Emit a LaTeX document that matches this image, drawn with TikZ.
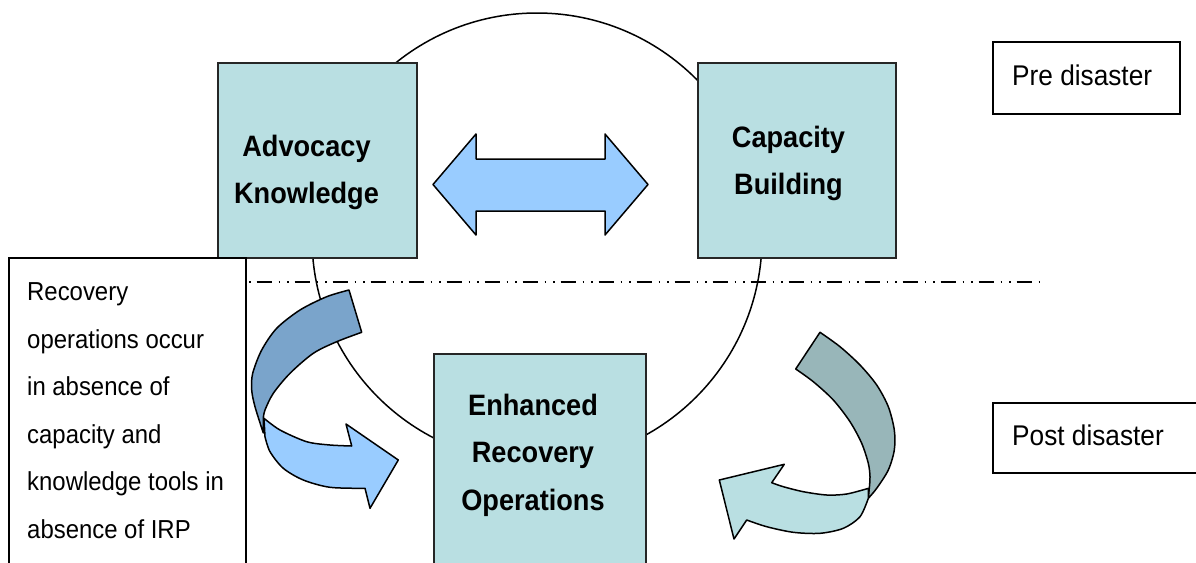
\documentclass[tikz,border=0pt]{standalone}
\usepackage{fontspec}
\setmainfont{Liberation Sans}
\newfontfamily\lab[FakeStretch=0.92]{Liberation Sans}
\definecolor{boxfill}{HTML}{B9DFE2}
\definecolor{arrblue}{HTML}{99CCFF}
\definecolor{arrdark}{HTML}{7AA4CB}
\definecolor{arrgrey}{HTML}{98B6B9}
\tikzset{
  box/.style={draw=black!85, line width=1.8pt, fill=boxfill, inner sep=0pt, anchor=north west},
  plainbox/.style={draw=black, line width=1.6pt, fill=white, inner sep=0pt, anchor=north west},
  boldlbl/.style={font=\lab\fontsize{29.5}{30}\selectfont\bfseries, anchor=base, inner sep=0pt},
  txtlbl/.style={font=\lab\fontsize{26}{26}\selectfont, anchor=base west, inner sep=0pt},
  taglbl/.style={font=\lab\fontsize{28.5}{29}\selectfont, anchor=base west, inner sep=0pt},
  outl/.style={draw=black, line width=1.5pt, line join=round},
  sepline/.style={draw=black, line width=1.6pt, dash pattern=on 15pt off 7pt on 1.5pt off 7pt on 1.5pt off 6pt},
}
\begin{document}
\begin{tikzpicture}[x=1pt,y=-1pt]
\useasboundingbox (0,0) rectangle (1196,562);
\fill[white] (0,0) rectangle (1196,562);

% ring
\node[circle, draw=black, line width=1.5pt, minimum size=450pt, inner sep=0pt] (ring) at (537,238) {};

% main boxes
\node[box, minimum width=199pt, minimum height=195pt] (adv) at (217,62) {};
\node[box, minimum width=198pt, minimum height=195pt] (cap) at (697,62) {};
\node[box, minimum width=212pt, minimum height=240pt] (enh) at (433,353) {};

\node[boldlbl] (advA) at (306.5,156) {Advocacy};
\node[boldlbl] (advK) at (306.5,203) {Knowledge};
\node[boldlbl] (capC) at (788.5,147) {Capacity};
\node[boldlbl] (capB) at (788.5,194.5) {Building};
\node[boldlbl] (enhE) at (533,415) {Enhanced};
\node[boldlbl] (enhR) at (533,462.5) {Recovery};
\node[boldlbl] (enhO) at (533,510) {Operations};

% double arrow
\path[outl, fill=arrblue] (433,184.5) -- (476,134) -- (476,159) -- (605,159) -- (605,134)
  -- (648,184.5) -- (605,235) -- (605,211) -- (476,211) -- (476,235) -- cycle;

% separator
\coordinate (ls) at (180.7,282);
\coordinate (le) at (1040.2,282);
\draw[sepline] (ls) -- (le);

% left curved arrow: dark part
\path[outl, fill=arrdark] (349,290)
  -- plot[smooth] coordinates {(361.7,332.3) (336.7,341.7) (313.3,353.3) (290,373.3) (273.3,393.3) (265,410) (263.3,418.3)}
  -- plot[smooth] coordinates {(263.3,433) (255,406.7) (251.7,390) (252.7,373.3) (261.7,350) (276.7,328.3) (300,310) (326.7,296.7) (349,290)}
  -- cycle;
% left curved arrow: light part
\path[outl, fill=arrblue]
  plot[smooth] coordinates {(264,418.3) (280,430) (306.7,441.7) (330,445) (351.7,446)}
  -- (346,424) -- (398.3,460) -- (370,508.3)
  -- plot[smooth] coordinates {(365,488.3) (330,487.3) (303.3,480) (283.3,468.3) (270,451.7) (265,436.7)}
  -- cycle;

% right curved arrow: dark part
\path[outl, fill=arrgrey] (820,332.3)
  -- plot[smooth] coordinates {(795.7,369) (813.3,381.7) (833.3,400) (850,421.7) (861.7,443.3) (868.3,463.3) (870,476.7) (869.3,488.3)}
  -- plot[smooth] coordinates {(868.3,498.3) (876.7,488.3) (888.3,470) (894.3,450) (894.3,430) (888.3,406.7) (876.7,385) (860,365) (840,346.7) (820,332.3)}
  -- cycle;
% right curved arrow: light part
\path[outl, fill=boxfill]
  plot[smooth] coordinates {(868.5,488.3) (846.7,494) (826.7,495) (803.3,491.7) (783.3,486.7) (771.7,482.7)}
  -- (784.3,464.3) -- (719.3,480) -- (734,539)
  -- plot[smooth] coordinates {(746.7,520) (766.7,526.7) (793.3,532.3) (820,533.3) (843.3,528.3) (860,516.7) (868.3,498.3)}
  -- cycle;

% text box
\node[plainbox, minimum width=237pt, minimum height=330pt] (note) at (8,257) {};
\node[txtlbl] (n1) at (27,300.7) {Recovery};
\node[txtlbl] (n2) at (27,348.2) {operations occur};
\node[txtlbl] (n3) at (27,395.7) {in absence of};
\node[txtlbl] (n4) at (27,443.2) {capacity and};
\node[txtlbl] (n5) at (27,490.7) {knowledge tools in};
\node[txtlbl] (n6) at (27,538.2) {absence of IRP};

% tags
\node[plainbox, minimum width=187pt, minimum height=72pt] (pre) at (992,41) {};
\node[taglbl] (preT) at (1012,85) {Pre disaster};
\node[plainbox, minimum width=206pt, minimum height=70pt] (post) at (992,402) {};
\node[taglbl] (postT) at (1012,445) {Post disaster};
\end{tikzpicture}
\end{document}
